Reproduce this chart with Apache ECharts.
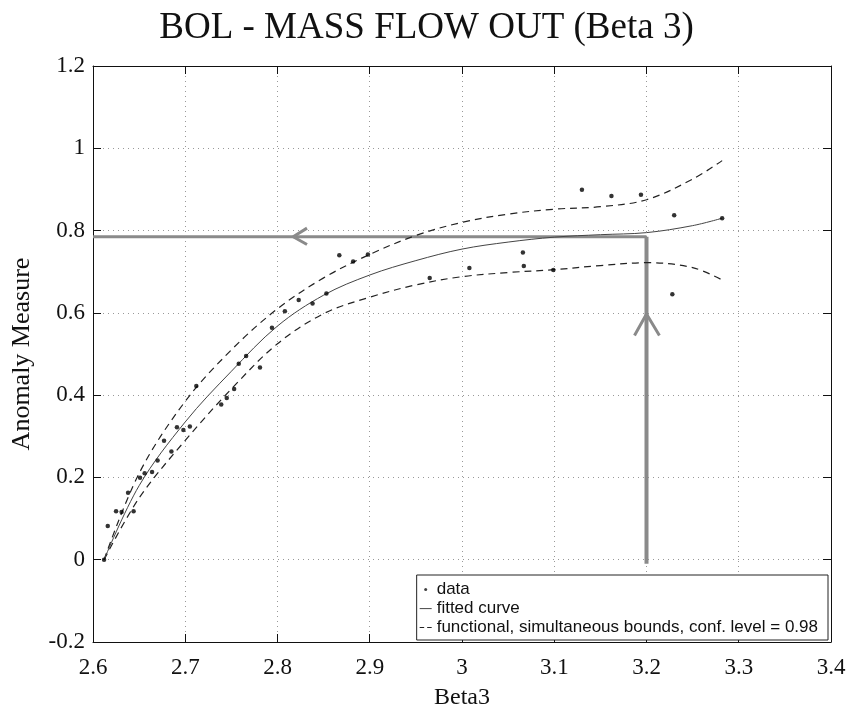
<!DOCTYPE html>
<html>
<head>
<meta charset="utf-8">
<script src="https://cdn.jsdelivr.net/npm/echarts@6/dist/echarts.min.js"></script>
<style>
html,body{margin:0;padding:0;background:#fff;}
#chart{width:853px;height:715px;}
</style>
</head>
<body>
<div id="chart"></div>
<script>
// Observed data points (Beta3, Anomaly Measure)
var dataX = [2.612, 2.616, 2.625, 2.631, 2.638, 2.644, 2.651, 2.656, 2.664, 2.670,
             2.677, 2.685, 2.691, 2.698, 2.705, 2.712, 2.739, 2.745, 2.753, 2.758,
             2.766, 2.781, 2.794, 2.808, 2.823, 2.838, 2.853, 2.867, 2.882, 2.898,
             2.965, 3.008, 3.066, 3.067, 3.099, 3.130, 3.162, 3.194, 3.230, 3.228, 3.282];
var dataY = [0.000, 0.082, 0.118, 0.116, 0.163, 0.118, 0.199, 0.210, 0.213, 0.241,
             0.289, 0.263, 0.322, 0.315, 0.324, 0.422, 0.377, 0.393, 0.415, 0.476,
             0.495, 0.467, 0.564, 0.604, 0.631, 0.623, 0.647, 0.740, 0.725, 0.742,
             0.685, 0.709, 0.747, 0.714, 0.704, 0.899, 0.884, 0.887, 0.837, 0.645, 0.830];

// Fitted curve and simultaneous bounds
var curveX = [2.612, 2.65, 2.7, 2.75, 2.8, 2.85, 2.9, 2.95, 3.0, 3.05, 3.1, 3.15, 3.2, 3.25, 3.282];
var fitY   = [0.000, 0.180, 0.335, 0.458, 0.568, 0.643, 0.692, 0.727, 0.755, 0.772, 0.784, 0.790, 0.795, 0.812, 0.830];
var upperY = [0.000, 0.210, 0.385, 0.510, 0.610, 0.685, 0.742, 0.788, 0.820, 0.840, 0.852, 0.858, 0.875, 0.925, 0.970];
var lowerY = [0.000, 0.150, 0.290, 0.415, 0.525, 0.598, 0.638, 0.668, 0.688, 0.698, 0.705, 0.715, 0.722, 0.710, 0.680];

// Annotation arrows (data coordinates)
var hArrowX = [3.2, 2.6];       var hArrowY = [0.785, 0.785];
var hHeadX  = [2.832, 2.817, 2.832]; var hHeadY = [0.806, 0.785, 0.766];
var vArrowX = [3.2, 3.2];       var vArrowY = [-0.01, 0.785];
var vHeadX  = [3.187, 3.2, 3.214]; var vHeadY = [0.545, 0.597, 0.545];

var xTicks = ['2.6','2.7','2.8','2.9','3','3.1','3.2','3.3','3.4'];
var yTicks = ['-0.2','0','0.2','0.4','0.6','0.8','1','1.2'];

function zip(xs, ys){ return xs.map(function(x,i){ return [x, ys[i]]; }); }

var serif = 'Liberation Serif';
var chart = echarts.init(document.getElementById('chart'), null, {renderer:'canvas'});

var axisCommonX = {
  type:'value', min:2.6, max:3.4, interval:0.1,
  axisLine:{show:true, onZero:false, lineStyle:{color:'#111', width:1}},
  axisTick:{show:true, inside:true, length:8, lineStyle:{color:'#111'}}
};
var axisCommonY = {
  type:'value', min:-0.2, max:1.2, interval:0.2,
  axisLine:{show:true, onZero:false, lineStyle:{color:'#111', width:1}},
  axisTick:{show:true, inside:true, length:8, lineStyle:{color:'#111'}}
};

var boundName = 'functional, simultaneous bounds, conf. level = 0.98';
// legend glyphs (bounding box 12x10 kept by invisible move-to corners)
var iconDot   = 'path://M0,0 M4.5,5 A1.5,1.5 0 1,0 7.5,5 A1.5,1.5 0 1,0 4.5,5 Z M12,10';
var iconSolid = 'path://M0,0 M0,4.6 L12,4.6 L12,5.6 L0,5.6 Z M12,10';
var iconDash  = 'path://M0,0 M0,4.6 L4.5,4.6 L4.5,5.6 L0,5.6 Z M7.5,4.6 L12,4.6 L12,5.6 L7.5,5.6 Z M12,10';

var option = {
  backgroundColor:'#fff',
  animation:false,
  title:{
    text:'BOL - MASS FLOW OUT (Beta 3)',
    left:'center', top:5,
    textStyle:{fontFamily:serif, fontSize:37, fontWeight:'normal', color:'#111'}
  },
  grid:{left:93, right:22, top:66, bottom:59},
  xAxis:[
    Object.assign({}, axisCommonX, {
      position:'bottom',
      name:'Beta3', nameLocation:'middle', nameGap:44,
      nameTextStyle:{fontFamily:serif, fontSize:24, color:'#111'},
      axisLabel:{show:true, margin:14, fontFamily:serif, fontSize:23, color:'#111',
        formatter:function(v){ var s = xTicks[Math.round((v-2.6)/0.1)]; return s===undefined ? '' : s; }},
      splitLine:{show:true, lineStyle:{type:[1,4], color:'#999', width:1}}
    }),
    Object.assign({}, axisCommonX, {
      position:'top', axisLabel:{show:false}, splitLine:{show:false}
    })
  ],
  yAxis:[
    Object.assign({}, axisCommonY, {
      position:'left',
      name:'Anomaly Measure', nameLocation:'middle', nameGap:58,
      nameTextStyle:{fontFamily:serif, fontSize:26, color:'#111'},
      axisLabel:{show:true, margin:8, fontFamily:serif, fontSize:23, color:'#111',
        formatter:function(v){ var s = yTicks[Math.round((v+0.2)/0.2)]; return s===undefined ? '' : s; }},
      splitLine:{show:true, lineStyle:{type:[1,4], color:'#999', width:1}}
    }),
    Object.assign({}, axisCommonY, {
      position:'right', axisLabel:{show:false}, splitLine:{show:false}
    })
  ],
  legend:{
    orient:'vertical', right:25, bottom:75,
    backgroundColor:'#fff', borderColor:'#222', borderWidth:1,
    padding:[6,10,4,3], itemGap:2, itemWidth:12, itemHeight:10,
    textStyle:{fontFamily:'Liberation Sans', fontSize:17, color:'#111', lineHeight:16},
    data:[
      {name:'data', icon:iconDot, itemStyle:{color:'#111'}},
      {name:'fitted curve', icon:iconSolid, itemStyle:{color:'#444'}},
      {name:boundName, icon:iconDash, itemStyle:{color:'#222'}}
    ]
  },
  series:[
    {
      name:boundName, type:'line',
      data:zip(curveX, upperY), smooth:0.35, showSymbol:false, symbol:'none',
      lineStyle:{color:'#222', width:1.2, type:[7,5]}, itemStyle:{color:'#222'}, z:3
    },
    {
      name:boundName, type:'line',
      data:zip(curveX, lowerY), smooth:0.35, showSymbol:false, symbol:'none',
      lineStyle:{color:'#222', width:1.2, type:[7,5]}, itemStyle:{color:'#222'}, z:3
    },
    {
      name:'fitted curve', type:'line',
      data:zip(curveX, fitY), smooth:0.35, showSymbol:false, symbol:'none',
      lineStyle:{color:'#444', width:1}, itemStyle:{color:'#444'}, z:3
    },
    {
      name:'data', type:'scatter', data:zip(dataX, dataY),
      symbol:'circle', symbolSize:4.5, itemStyle:{color:'#000'}, z:4
    },
    {
      name:'arrowH', type:'line', data:zip(hArrowX, hArrowY), symbol:'none',
      lineStyle:{color:'#8a8a8a', width:3}, z:2, silent:true
    },
    {
      name:'arrowHHead', type:'line', data:zip(hHeadX, hHeadY), symbol:'none',
      lineStyle:{color:'#8a8a8a', width:3}, z:2, silent:true
    },
    {
      name:'arrowV', type:'line', data:zip(vArrowX, vArrowY), symbol:'none',
      lineStyle:{color:'#8a8a8a', width:4}, z:2, silent:true
    },
    {
      name:'arrowVHead', type:'line', data:zip(vHeadX, vHeadY), symbol:'none',
      lineStyle:{color:'#8a8a8a', width:3}, z:2, silent:true
    }
  ]
};
chart.setOption(option);
</script>
</body>
</html>
